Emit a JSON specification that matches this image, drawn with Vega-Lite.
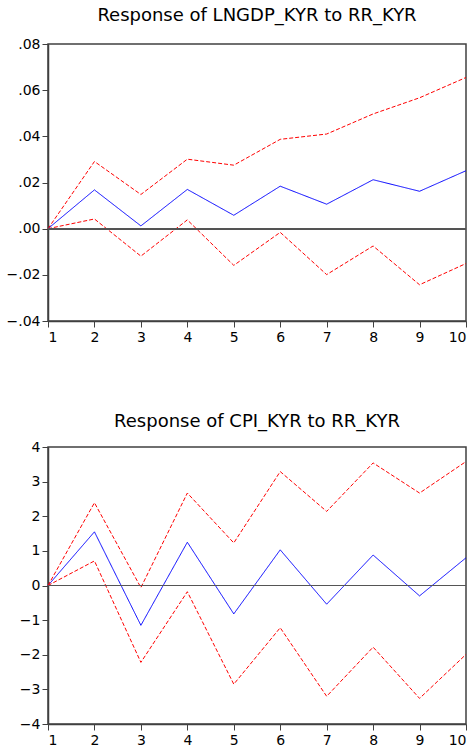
{
  "$schema": "https://vega.github.io/schema/vega-lite/v6.json",
  "padding": {"left": 5, "top": 6, "right": 0, "bottom": 0},
  "spacing": 67,
  "config": {
    "font": "DejaVu Sans",
    "view": {"stroke": "#404040", "strokeWidth": 1.5},
    "title": {"font": "DejaVu Sans", "fontSize": 18, "fontWeight": "normal", "color": "#000000", "offset": 12},
    "axis": {"labelFont": "DejaVu Sans", "labelFontSize": 14, "labelColor": "#000000", "domainColor": "#404040", "domainWidth": 1.5, "tickColor": "#404040", "tickSize": 6, "labelPadding": 2, "labelOverlap": false, "grid": false, "title": null},
    "axisX": {"labelPadding": 3}
  },
  "datasets": {
    "irf": [
      {"panel": "gdp", "h": 1, "s": "est", "v": 0},
      {"panel": "gdp", "h": 2, "s": "est", "v": 0.0168},
      {"panel": "gdp", "h": 3, "s": "est", "v": 0.0012},
      {"panel": "gdp", "h": 4, "s": "est", "v": 0.0170},
      {"panel": "gdp", "h": 5, "s": "est", "v": 0.0058},
      {"panel": "gdp", "h": 6, "s": "est", "v": 0.0184},
      {"panel": "gdp", "h": 7, "s": "est", "v": 0.0106},
      {"panel": "gdp", "h": 8, "s": "est", "v": 0.0212},
      {"panel": "gdp", "h": 9, "s": "est", "v": 0.0162},
      {"panel": "gdp", "h": 10, "s": "est", "v": 0.0251},
      {"panel": "gdp", "h": 1, "s": "upper", "v": 0},
      {"panel": "gdp", "h": 2, "s": "upper", "v": 0.0291},
      {"panel": "gdp", "h": 3, "s": "upper", "v": 0.0148},
      {"panel": "gdp", "h": 4, "s": "upper", "v": 0.0301},
      {"panel": "gdp", "h": 5, "s": "upper", "v": 0.0275},
      {"panel": "gdp", "h": 6, "s": "upper", "v": 0.0387},
      {"panel": "gdp", "h": 7, "s": "upper", "v": 0.0410},
      {"panel": "gdp", "h": 8, "s": "upper", "v": 0.0497},
      {"panel": "gdp", "h": 9, "s": "upper", "v": 0.0567},
      {"panel": "gdp", "h": 10, "s": "upper", "v": 0.0655},
      {"panel": "gdp", "h": 1, "s": "lower", "v": 0},
      {"panel": "gdp", "h": 2, "s": "lower", "v": 0.0042},
      {"panel": "gdp", "h": 3, "s": "lower", "v": -0.0119},
      {"panel": "gdp", "h": 4, "s": "lower", "v": 0.0038},
      {"panel": "gdp", "h": 5, "s": "lower", "v": -0.0159},
      {"panel": "gdp", "h": 6, "s": "lower", "v": -0.0016},
      {"panel": "gdp", "h": 7, "s": "lower", "v": -0.0199},
      {"panel": "gdp", "h": 8, "s": "lower", "v": -0.0075},
      {"panel": "gdp", "h": 9, "s": "lower", "v": -0.0243},
      {"panel": "gdp", "h": 10, "s": "lower", "v": -0.0151},
      {"panel": "cpi", "h": 1, "s": "est", "v": 0},
      {"panel": "cpi", "h": 2, "s": "est", "v": 1.55},
      {"panel": "cpi", "h": 3, "s": "est", "v": -1.15},
      {"panel": "cpi", "h": 4, "s": "est", "v": 1.25},
      {"panel": "cpi", "h": 5, "s": "est", "v": -0.82},
      {"panel": "cpi", "h": 6, "s": "est", "v": 1.03},
      {"panel": "cpi", "h": 7, "s": "est", "v": -0.54},
      {"panel": "cpi", "h": 8, "s": "est", "v": 0.88},
      {"panel": "cpi", "h": 9, "s": "est", "v": -0.30},
      {"panel": "cpi", "h": 10, "s": "est", "v": 0.80},
      {"panel": "cpi", "h": 1, "s": "upper", "v": 0},
      {"panel": "cpi", "h": 2, "s": "upper", "v": 2.39},
      {"panel": "cpi", "h": 3, "s": "upper", "v": -0.06},
      {"panel": "cpi", "h": 4, "s": "upper", "v": 2.67},
      {"panel": "cpi", "h": 5, "s": "upper", "v": 1.23},
      {"panel": "cpi", "h": 6, "s": "upper", "v": 3.29},
      {"panel": "cpi", "h": 7, "s": "upper", "v": 2.14},
      {"panel": "cpi", "h": 8, "s": "upper", "v": 3.54},
      {"panel": "cpi", "h": 9, "s": "upper", "v": 2.67},
      {"panel": "cpi", "h": 10, "s": "upper", "v": 3.58},
      {"panel": "cpi", "h": 1, "s": "lower", "v": 0},
      {"panel": "cpi", "h": 2, "s": "lower", "v": 0.71},
      {"panel": "cpi", "h": 3, "s": "lower", "v": -2.22},
      {"panel": "cpi", "h": 4, "s": "lower", "v": -0.18},
      {"panel": "cpi", "h": 5, "s": "lower", "v": -2.85},
      {"panel": "cpi", "h": 6, "s": "lower", "v": -1.22},
      {"panel": "cpi", "h": 7, "s": "lower", "v": -3.20},
      {"panel": "cpi", "h": 8, "s": "lower", "v": -1.78},
      {"panel": "cpi", "h": 9, "s": "lower", "v": -3.26},
      {"panel": "cpi", "h": 10, "s": "lower", "v": -1.99}
    ]
  },
  "vconcat": [
    {
      "title": "Response of LNGDP_KYR to RR_KYR",
      "width": 418,
      "height": 277,
      "data": {"name": "irf"},
      "transform": [{"filter": "datum.panel === 'gdp'"}],
      "layer": [
        {
          "mark": {"type": "line", "strokeWidth": 1},
          "encoding": {
            "x": {"field": "h", "type": "quantitative", "scale": {"domain": [1, 10], "nice": false, "zero": false}, "axis": {"values": [1,2,3,4,5,6,7,8,9,10], "format": "d", "labelOverlap": false}},
            "y": {"field": "v", "type": "quantitative", "scale": {"domain": [-0.04, 0.08], "nice": false}, "axis": {"values": [-0.04,-0.02,0,0.02,0.04,0.06,0.08], "labelOverlap": false, "labelExpr": "replace(format(datum.value, '.2f'), '0.', '.')"}},
            "color": {"field": "s", "type": "nominal", "scale": {"domain": ["est","upper","lower"], "range": ["#0000ff","#ff0000","#ff0000"]}, "legend": null},
            "strokeDash": {"field": "s", "type": "nominal", "scale": {"domain": ["est","upper","lower"], "range": [[1,0],[4,2],[4,2]]}, "legend": null}
          }
        },
        {
          "mark": {"type": "rule", "color": "#555555", "strokeWidth": 1},
          "encoding": {"y": {"datum": 0, "type": "quantitative", "axis": {"values": [-0.04,-0.02,0,0.02,0.04,0.06,0.08], "labelOverlap": false, "labelExpr": "replace(format(datum.value, '.2f'), '0.', '.')"}}}
        }
      ]
    },
    {
      "title": {"text": "Response of CPI_KYR to RR_KYR", "offset": 9},
      "width": 418,
      "height": 277,
      "data": {"name": "irf"},
      "transform": [{"filter": "datum.panel === 'cpi'"}],
      "layer": [
        {
          "mark": {"type": "line", "strokeWidth": 1},
          "encoding": {
            "x": {"field": "h", "type": "quantitative", "scale": {"domain": [1, 10], "nice": false, "zero": false}, "axis": {"values": [1,2,3,4,5,6,7,8,9,10], "format": "d", "labelOverlap": false}},
            "y": {"field": "v", "type": "quantitative", "scale": {"domain": [-4, 4], "nice": false}, "axis": {"values": [-4,-3,-2,-1,0,1,2,3,4], "format": "d", "labelOverlap": false}},
            "color": {"field": "s", "type": "nominal", "scale": {"domain": ["est","upper","lower"], "range": ["#0000ff","#ff0000","#ff0000"]}, "legend": null},
            "strokeDash": {"field": "s", "type": "nominal", "scale": {"domain": ["est","upper","lower"], "range": [[1,0],[4,2],[4,2]]}, "legend": null}
          }
        },
        {
          "mark": {"type": "rule", "color": "#555555", "strokeWidth": 1},
          "encoding": {"y": {"datum": 0, "type": "quantitative", "axis": {"values": [-4,-3,-2,-1,0,1,2,3,4], "format": "d", "labelOverlap": false}}}
        }
      ]
    }
  ]
}
